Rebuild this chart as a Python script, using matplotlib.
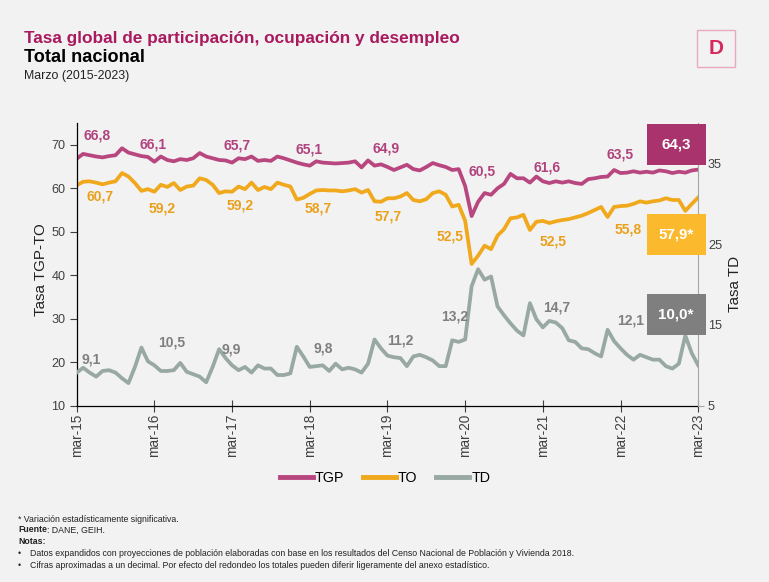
import matplotlib
matplotlib.use('Agg')
import matplotlib.pyplot as plt
from matplotlib import font_manager
from matplotlib.patches import Rectangle
import numpy as np

# fuente: estrecha si existe
names = {f.name for f in font_manager.fontManager.ttflist}
if 'Liberation Sans Narrow' in names:
    FONT, k = 'Liberation Sans Narrow', 1.0
else:
    FONT, k = 'Liberation Sans', 0.82
plt.rcParams['font.family'] = [FONT, 'DejaVu Sans']

# datos mensuales mar-15 ... mar-23
tgp = [66.8, 67.9, 67.6, 67.3, 67.1, 67.4, 67.6, 69.2, 68.2, 67.8, 67.4, 67.2,
       66.1, 67.3, 66.5, 66.2, 66.7, 66.5, 66.9, 68.1, 67.3, 66.9, 66.5, 66.4,
       65.9, 66.9, 66.7, 67.3, 66.3, 66.5, 66.3, 67.3, 66.9, 66.4, 65.9, 65.5,
       65.2, 66.2, 65.9, 65.8, 65.7, 65.8, 65.9, 66.2, 64.8, 66.4, 65.2, 65.5,
       64.9, 64.2, 64.8, 65.4, 64.4, 64.1, 64.9, 65.8, 65.3, 64.9, 64.2, 64.4,
       60.5, 53.6, 56.9, 58.9, 58.5, 60.0, 61.0, 63.3, 62.3, 62.3, 61.3, 62.7,
       61.6, 61.2, 61.6, 61.3, 61.6, 61.2, 61.0, 62.1, 62.3, 62.6, 62.7, 64.2,
       63.5, 63.6, 63.9, 63.6, 63.8, 63.6, 64.1, 63.9, 63.5, 63.8, 63.6, 64.1,
       64.3]
to = [60.7, 61.5, 61.6, 61.3, 60.9, 61.3, 61.6, 63.5, 62.7, 61.2, 59.4, 59.8,
      59.2, 60.8, 60.3, 61.2, 59.6, 60.4, 60.6, 62.3, 61.9, 60.8, 58.9, 59.3,
      59.2, 60.4, 59.8, 61.3, 59.6, 60.3, 59.8, 61.3, 60.8, 60.4, 57.4, 57.8,
      58.7, 59.5, 59.6, 59.5, 59.5, 59.3, 59.5, 59.8, 59.0, 59.6, 57.0, 56.9,
      57.7, 57.7, 58.1, 58.9, 57.3, 57.0, 57.5, 58.9, 59.3, 58.5, 55.8, 56.2,
      52.5, 42.6, 44.5, 46.8, 46.0, 49.1, 50.6, 53.1, 53.3, 53.9, 50.4, 52.3,
      52.5, 52.0, 52.4, 52.7, 52.9, 53.3, 53.7, 54.3, 55.0, 55.7, 53.4, 55.7,
      55.9, 56.0, 56.4, 57.0, 56.7, 57.0, 57.2, 57.7, 57.3, 57.3, 54.8, 56.4,
      57.9]
td = [9.1, 9.7, 9.1, 8.6, 9.3, 9.4, 9.1, 8.4, 7.8, 9.8, 12.2, 10.5,
      10.0, 9.3, 9.3, 9.4, 10.3, 9.2, 8.9, 8.6, 7.9, 9.8, 12.0, 10.9,
      10.0, 9.4, 9.8, 9.1, 10.0, 9.6, 9.6, 8.8, 8.8, 9.0, 12.3, 11.1,
      9.8, 9.9, 10.0, 9.3, 10.2, 9.5, 9.7, 9.5, 9.1, 10.2, 13.2, 12.1,
      11.2, 11.0, 10.9, 9.9, 11.1, 11.3, 11.0, 10.6, 9.9, 9.9, 13.1, 12.9,
      13.2, 19.8, 21.9, 20.6, 21.0, 17.3, 16.2, 15.2, 14.3, 13.7, 17.7, 15.7,
      14.7, 15.5, 15.3, 14.6, 13.1, 12.9, 12.1, 12.0, 11.5, 11.1, 14.4, 13.0,
      12.1, 11.3, 10.7, 11.3, 11.0, 10.7, 10.7, 9.9, 9.6, 10.2, 13.7, 11.5,
      10.0]
tick_labels = ['mar-15', 'mar-16', 'mar-17', 'mar-18', 'mar-19',
               'mar-20', 'mar-21', 'mar-22', 'mar-23']

# valores de marzo (etiquetas)
tgp_mar = [66.8, 66.1, 65.7, 65.1, 64.9, 60.5, 61.6, 63.5, 64.3]
to_mar = [60.7, 59.2, 59.2, 58.7, 57.7, 52.5, 52.5, 55.8, 57.9]
td_mar = [9.1, 10.5, 9.9, 9.8, 11.2, 13.2, 14.7, 12.1, 10.0]
signif = ['', '*', '*']  # TGP, TO, TD en la ultima fecha

# donde van las etiquetas (meses, valor de eje)
tgp_pos = [(3.2, 72.1), (11.8, 70.0), (24.7, 69.8), (35.9, 69.0), (47.8, 69.1),
           (62.6, 63.9), (72.6, 64.8), (83.9, 67.7)]
to_pos = [(3.6, 58.1), (13.2, 55.4), (25.3, 56.0), (37.3, 55.4), (48.1, 53.5),
          (57.7, 49.0), (73.6, 47.7), (85.2, 50.6)]
td_pos = [(2.2, 10.7), (14.7, 12.8), (23.8, 12.0), (38.1, 12.1), (49.9, 13.1),
          (58.4, 16.0), (74.1, 17.1), (85.5, 15.6)]

c_tgp, c_to, c_td = '#b8467f', '#f0a81c', '#98a8a3'
c_tgp_txt, c_to_txt, c_td_txt = '#b0427d', '#e9a11c', '#7f7f7f'
c_box = ['#a9336d', '#fbb92e', '#7f7f7f']
BG = '#f2f2f2'
TXT = '#222222'


def fmt(v):
    return f'{v:.1f}'.replace('.', ',')


fig = plt.figure(figsize=(7.69, 5.82), dpi=100, facecolor=BG)
ax = fig.add_axes([0.0997, 0.3029, 0.8083, 0.4857])
ax.set_facecolor(BG)
ax2 = ax.twinx()

x = np.arange(len(tgp))
l1, = ax.plot(x, tgp, color=c_tgp, lw=2.7, solid_joinstyle='round', label='TGP')
l2, = ax.plot(x, to, color=c_to, lw=2.7, solid_joinstyle='round', label='TO')
l3, = ax2.plot(x, td, color=c_td, lw=2.7, solid_joinstyle='round', label='TD')

ax.set_xlim(0, 96)
ax.set_ylim(10, 75)
ax2.set_ylim(5, 40)
ax.set_yticks(range(10, 71, 10))
ax2.set_yticks([5, 15, 25, 35])
ax.set_xticks(range(0, 97, 12))
ax.set_xticklabels(tick_labels, rotation=90)

for s in ['top', 'right']:
    ax.spines[s].set_visible(False)
for s in ['top', 'left', 'bottom']:
    ax2.spines[s].set_visible(False)
ax2.spines['right'].set_color('#a6a6a6')
ax.spines['left'].set_linewidth(0.9)
ax.spines['bottom'].set_linewidth(0.9)

ax.tick_params(axis='x', direction='inout', length=8, width=0.8,
               labelsize=10.8 * k / 0.9, colors='#404040', pad=2)
ax.tick_params(axis='y', direction='out', length=5, width=0.8,
               labelsize=10 * k / 0.9, colors='#404040', pad=3)
ax2.tick_params(axis='y', direction='out', length=4, width=0.8, color='#a6a6a6',
                labelsize=10 * k / 0.9, labelcolor='#404040', pad=3)

ax.set_ylabel('Tasa TGP-TO', fontsize=12 * k / 0.9, color=TXT)
ax.yaxis.set_label_coords(-0.046, 0.48)
ax2.set_ylabel('Tasa TD', fontsize=12 * k / 0.9, color=TXT)
ax2.yaxis.set_label_coords(1.048, 0.43)

# etiquetas de marzo
for v, (px, py) in zip(tgp_mar[:-1], tgp_pos):
    ax.text(px, py, fmt(v), color=c_tgp_txt, fontsize=11 * k / 0.9,
            fontweight='bold', ha='center', va='center')
for v, (px, py) in zip(to_mar[:-1], to_pos):
    ax.text(px, py, fmt(v), color=c_to_txt, fontsize=11 * k / 0.9,
            fontweight='bold', ha='center', va='center')
for v, (px, py) in zip(td_mar[:-1], td_pos):
    ax2.text(px, py, fmt(v), color=c_td_txt, fontsize=11 * k / 0.9,
             fontweight='bold', ha='center', va='center')

# cajas con el ultimo dato
last = [tgp_mar[-1], to_mar[-1], td_mar[-1]]
box_y = [0.851, 0.533, 0.250]
for v, s, c, by in zip(last, signif, c_box, box_y):
    ax2.add_patch(Rectangle((0.917, by), 0.095, 0.145, transform=ax2.transAxes,
                            facecolor=c, edgecolor='none', clip_on=False, zorder=5))
    ax2.text(0.9645, by + 0.0725, fmt(v) + s, transform=ax2.transAxes,
             color='white', fontsize=12 * k / 0.9, fontweight='bold',
             ha='center', va='center', zorder=6)

fig.legend(handles=[l1, l2, l3], loc='center', bbox_to_anchor=(0.5007, 0.1787),
           ncol=3, frameon=False, fontsize=11.3 * k / 0.9, handlelength=2.3,
           handletextpad=0.15, columnspacing=1.3)
for h in fig.legends[0].get_lines():
    h.set_linewidth(3.5)

# titulos
fig.text(24 / 769, 1 - 39 / 582, 'Tasa global de participación, ocupación y desempleo',
         color='#a8195e', fontsize=13.6 * k / 0.9, fontweight='bold', va='center')
fig.text(24 / 769, 1 - 58 / 582, 'Total nacional', color='black',
         fontsize=14.3 * k / 0.9, fontweight='bold', va='center')
fig.text(24 / 769, 1 - 76 / 582, 'Marzo (2015-2023)', color=TXT,
         fontsize=9.8 * k / 0.9, va='center')

# logo
fig.patches.append(Rectangle((697 / 769, 1 - 67 / 582), 38 / 769, 37 / 582,
                             transform=fig.transFigure, facecolor='none',
                             edgecolor='#eaa9c0', lw=1))
fig.text(716 / 769, 1 - 48.5 / 582, 'D', color='#d42a5b', fontsize=15,
         fontweight='bold', ha='center', va='center')

# notas
fs = 6.95 * k / 0.9
fig.text(18 / 769, 1 - 519 / 582, '* Variación estadísticamente significativa.',
         fontsize=fs, va='center', color=TXT)
t_f = fig.text(18 / 769, 1 - 530 / 582, 'Fuente', fontsize=fs, va='center',
               fontweight='bold', color=TXT)
fig.texts.append(plt.Annotation(': DANE, GEIH.', xy=(1, 0.5), xycoords=t_f,
                                va='center', fontsize=fs, color=TXT))
fig.texts[-1].set_figure(fig)
fig.text(18 / 769, 1 - 541 / 582, 'Notas:', fontsize=fs, va='center',
         fontweight='bold', color=TXT)
notas = ['Datos expandidos con proyecciones de población elaboradas con base en los '
         'resultados del Censo Nacional de Población y Vivienda 2018.',
         'Cifras aproximadas a un decimal. Por efecto del redondeo los totales pueden '
         'diferir ligeramente del anexo estadístico.']
for i, n in enumerate(notas):
    yy = 1 - (553 + 13 * i) / 582
    fig.text(18 / 769, yy, '•', fontsize=fs, va='center', color=TXT)
    fig.text(30 / 769, yy, n, fontsize=fs, va='center', color=TXT)

fig.savefig('out.png', dpi=100, facecolor=BG)
